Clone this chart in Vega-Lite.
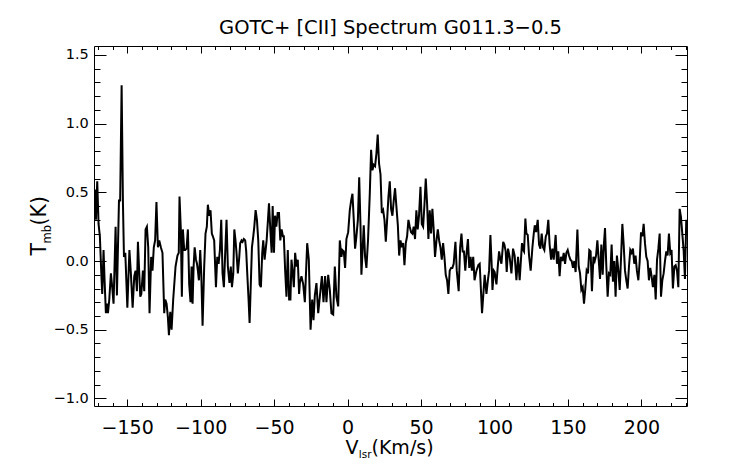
{
  "$schema": "https://vega.github.io/schema/vega-lite/v6.json",
  "width": 593,
  "height": 360,
  "autosize": {"type": "none"},
  "padding": {"left": 94, "top": 46, "right": 55, "bottom": 58},
  "title": {
    "text": "GOTC+ [CII] Spectrum G011.3−0.5",
    "font": "DejaVu Sans",
    "fontSize": 19.5,
    "fontWeight": "normal",
    "color": "black",
    "baseline": "alphabetic",
    "offset": -8,
    "frame": "group",
    "anchor": "middle"
  },
  "config": {
    "view": {"stroke": "black", "strokeWidth": 1},
    "axis": {
      "grid": false,
      "domain": false,
      "labelFont": "DejaVu Sans",
      "titleFont": "DejaVu Sans",
      "labelColor": "black",
      "titleColor": "black",
      "tickColor": "black",
      "tickWidth": 1,
      "titleFontWeight": "normal",
      "labelFlush": false,
      "labelOverlap": false,
      "titleAlign": "left",
      "titleBaseline": "alphabetic"
    }
  },
  "data": {"name": "spec"},
  "datasets": {
    "spec": [
      {"v": -172.6, "tmb": 0.32}, {"v": -172, "tmb": 0.52}, {"v": -171.3, "tmb": 0.30}, {"v": -170.4, "tmb": 0.58},
      {"v": -169.5, "tmb": 0.27}, {"v": -168.6, "tmb": 0.18}, {"v": -167.7, "tmb": -0.07}, {"v": -167, "tmb": -0.24},
      {"v": -166.1, "tmb": 0.08}, {"v": -165.4, "tmb": -0.14}, {"v": -164.5, "tmb": -0.38}, {"v": -163.8, "tmb": -0.31},
      {"v": -163.1, "tmb": -0.38}, {"v": -162.2, "tmb": -0.28}, {"v": -161.1, "tmb": -0.09}, {"v": -160.2, "tmb": -0.19},
      {"v": -159.3, "tmb": -0.31}, {"v": -157.9, "tmb": 0.25}, {"v": -157, "tmb": -0.25}, {"v": -155.6, "tmb": 0.44},
      {"v": -154.8, "tmb": 0.44}, {"v": -153.8, "tmb": 1.28}, {"v": -152.9, "tmb": 0.42}, {"v": -152.2, "tmb": 0.03},
      {"v": -151.3, "tmb": 0.06}, {"v": -149.9, "tmb": -0.34}, {"v": -148.5, "tmb": 0.08}, {"v": -147.5, "tmb": -0.09},
      {"v": -146.3, "tmb": -0.34}, {"v": -145.2, "tmb": -0.11}, {"v": -144.3, "tmb": -0.07}, {"v": -143.4, "tmb": -0.22},
      {"v": -142.7, "tmb": 0.14}, {"v": -141.8, "tmb": -0.09}, {"v": -141.1, "tmb": -0.26}, {"v": -140.4, "tmb": -0.24},
      {"v": -139.3, "tmb": -0.07}, {"v": -138.4, "tmb": -0.22}, {"v": -137.5, "tmb": 0.23}, {"v": -136.6, "tmb": 0.25},
      {"v": -135.7, "tmb": 0.10}, {"v": -134.8, "tmb": -0.38}, {"v": -133.7, "tmb": 0.03}, {"v": -132.8, "tmb": -0.07},
      {"v": -131.9, "tmb": 0.10}, {"v": -131, "tmb": 0.15}, {"v": -130.1, "tmb": 0.43}, {"v": -129.1, "tmb": 0.10},
      {"v": -128.2, "tmb": 0.15}, {"v": -127.1, "tmb": 0.10}, {"v": -126, "tmb": 0.06}, {"v": -124.8, "tmb": -0.38},
      {"v": -124.1, "tmb": -0.28}, {"v": -123.2, "tmb": -0.31}, {"v": -122.3, "tmb": -0.41}, {"v": -121.6, "tmb": -0.54},
      {"v": -120.7, "tmb": -0.37}, {"v": -119.8, "tmb": -0.50}, {"v": -118.7, "tmb": -0.28}, {"v": -117.1, "tmb": -0.04},
      {"v": -115.8, "tmb": 0.04}, {"v": -114.9, "tmb": 0.06}, {"v": -114.4, "tmb": 0.47}, {"v": -113.5, "tmb": 0.23},
      {"v": -112.8, "tmb": -0.26}, {"v": -112.1, "tmb": 0.23}, {"v": -111.2, "tmb": 0.08}, {"v": -110.5, "tmb": 0.08},
      {"v": -109.6, "tmb": 0.09}, {"v": -108.7, "tmb": 0.23}, {"v": -107.8, "tmb": -0.17}, {"v": -106.9, "tmb": -0.30},
      {"v": -106.2, "tmb": -0.04}, {"v": -105.5, "tmb": -0.31}, {"v": -104.8, "tmb": -0.04}, {"v": -104.1, "tmb": 0.10},
      {"v": -103.2, "tmb": 0.01}, {"v": -102.5, "tmb": -0.02}, {"v": -101.9, "tmb": -0.07}, {"v": -101.2, "tmb": -0.14},
      {"v": -100.3, "tmb": 0.08}, {"v": -99.6, "tmb": -0.09}, {"v": -98.7, "tmb": -0.47}, {"v": -97.6, "tmb": -0.04},
      {"v": -96.7, "tmb": 0.20}, {"v": -95.8, "tmb": 0.25}, {"v": -95.1, "tmb": 0.41}, {"v": -94.2, "tmb": 0.33},
      {"v": -93.3, "tmb": 0.37}, {"v": -92.4, "tmb": 0.20}, {"v": -91.7, "tmb": 0.18}, {"v": -90.8, "tmb": 0.15},
      {"v": -89.6, "tmb": -0.19}, {"v": -88.7, "tmb": 0.03}, {"v": -87.8, "tmb": -0.02}, {"v": -86.9, "tmb": 0.08},
      {"v": -86, "tmb": 0.30}, {"v": -85.1, "tmb": -0.09}, {"v": -84.2, "tmb": -0.19}, {"v": -83.3, "tmb": 0.06},
      {"v": -82.4, "tmb": 0.30}, {"v": -81.5, "tmb": -0.04}, {"v": -80.4, "tmb": -0.16}, {"v": -79.5, "tmb": -0.04},
      {"v": -78.7, "tmb": -0.19}, {"v": -77.8, "tmb": -0.09}, {"v": -77.1, "tmb": 0.23}, {"v": -76.3, "tmb": 0.15},
      {"v": -75.6, "tmb": 0.06}, {"v": -74.7, "tmb": -0.09}, {"v": -73.8, "tmb": 0.02}, {"v": -73.1, "tmb": 0.13},
      {"v": -72.2, "tmb": 0.15}, {"v": -71.5, "tmb": 0.14}, {"v": -70.6, "tmb": 0.16}, {"v": -69.7, "tmb": 0.15},
      {"v": -69, "tmb": 0.07}, {"v": -68.3, "tmb": -0.09}, {"v": -67.4, "tmb": -0.28}, {"v": -66.7, "tmb": -0.45},
      {"v": -65.8, "tmb": -0.14}, {"v": -65.1, "tmb": 0.10}, {"v": -64.2, "tmb": 0.18}, {"v": -63.5, "tmb": 0.25},
      {"v": -62.6, "tmb": 0.37}, {"v": -61.7, "tmb": 0.30}, {"v": -60.8, "tmb": 0.15}, {"v": -59.9, "tmb": -0.17},
      {"v": -59, "tmb": -0.19}, {"v": -58.1, "tmb": 0.06}, {"v": -57.4, "tmb": 0.15}, {"v": -56.5, "tmb": 0.01},
      {"v": -55.8, "tmb": 0.08}, {"v": -55.1, "tmb": 0.15}, {"v": -54.2, "tmb": 0.30}, {"v": -53.5, "tmb": 0.42},
      {"v": -52.6, "tmb": 0.23}, {"v": -51.7, "tmb": 0.06}, {"v": -51, "tmb": 0.40}, {"v": -50.1, "tmb": 0.06},
      {"v": -49.4, "tmb": 0.33}, {"v": -48.5, "tmb": 0.25}, {"v": -47.6, "tmb": 0.35}, {"v": -46.7, "tmb": 0.35},
      {"v": -45.8, "tmb": 0.15}, {"v": -44.9, "tmb": 0.23}, {"v": -44, "tmb": 0.18}, {"v": -43.4, "tmb": 0.18},
      {"v": -42.5, "tmb": -0.07}, {"v": -41.6, "tmb": -0.26}, {"v": -40.7, "tmb": 0.08}, {"v": -39.8, "tmb": -0.28},
      {"v": -38.9, "tmb": -0.28}, {"v": -38.2, "tmb": 0.01}, {"v": -37.3, "tmb": -0.09}, {"v": -36.6, "tmb": -0.19},
      {"v": -35.7, "tmb": 0.06}, {"v": -34.8, "tmb": -0.04}, {"v": -33.9, "tmb": 0.01}, {"v": -33, "tmb": -0.24},
      {"v": -32.5, "tmb": -0.16}, {"v": -31.4, "tmb": -0.11}, {"v": -30.2, "tmb": -0.17}, {"v": -29.1, "tmb": -0.30},
      {"v": -27.5, "tmb": 0.13}, {"v": -26.4, "tmb": 0.01}, {"v": -25.2, "tmb": -0.50}, {"v": -24.1, "tmb": -0.28},
      {"v": -23.2, "tmb": -0.43}, {"v": -22.3, "tmb": -0.25}, {"v": -21.2, "tmb": -0.16}, {"v": -20, "tmb": -0.38},
      {"v": -18.9, "tmb": -0.26}, {"v": -17.5, "tmb": -0.11}, {"v": -16.4, "tmb": -0.30}, {"v": -15.3, "tmb": -0.11},
      {"v": -14.4, "tmb": -0.30}, {"v": -13.2, "tmb": -0.10}, {"v": -12.1, "tmb": -0.21}, {"v": -11, "tmb": -0.38},
      {"v": -9.8, "tmb": -0.39}, {"v": -8.7, "tmb": -0.04}, {"v": -7.6, "tmb": -0.26}, {"v": -6.4, "tmb": -0.33},
      {"v": -5.3, "tmb": 0.15}, {"v": -4.2, "tmb": 0.03}, {"v": -3.5, "tmb": 0.08}, {"v": -2.6, "tmb": 0.07},
      {"v": -1.7, "tmb": -0.05}, {"v": -0.8, "tmb": 0.16}, {"v": 0.4, "tmb": 0.21}, {"v": 1.5, "tmb": 0.37},
      {"v": 2.4, "tmb": 0.44}, {"v": 3.3, "tmb": 0.49}, {"v": 4.2, "tmb": 0.30}, {"v": 5.1, "tmb": 0.09},
      {"v": 6, "tmb": 0.18}, {"v": 7, "tmb": 0.30}, {"v": 7.9, "tmb": 0.61}, {"v": 8.8, "tmb": 0.25},
      {"v": 9.4, "tmb": -0.10}, {"v": 10.3, "tmb": 0.10}, {"v": 11, "tmb": 0.26}, {"v": 11.9, "tmb": 0.03},
      {"v": 12.8, "tmb": -0.05}, {"v": 13.9, "tmb": 0.15}, {"v": 15.1, "tmb": 0.49}, {"v": 16, "tmb": 0.81},
      {"v": 16.9, "tmb": 0.66}, {"v": 17.8, "tmb": 0.70}, {"v": 18.7, "tmb": 0.69}, {"v": 19.6, "tmb": 0.78},
      {"v": 20.5, "tmb": 0.92}, {"v": 21.4, "tmb": 0.71}, {"v": 22.4, "tmb": 0.63}, {"v": 23.3, "tmb": 0.35},
      {"v": 24.2, "tmb": 0.37}, {"v": 25.1, "tmb": 0.30}, {"v": 26, "tmb": 0.14}, {"v": 26.9, "tmb": 0.30},
      {"v": 27.8, "tmb": 0.47}, {"v": 28.7, "tmb": 0.58}, {"v": 29.6, "tmb": 0.38}, {"v": 30.5, "tmb": 0.33},
      {"v": 31.4, "tmb": 0.44}, {"v": 32.3, "tmb": 0.53}, {"v": 33.2, "tmb": 0.40}, {"v": 34.2, "tmb": 0.26},
      {"v": 35.1, "tmb": 0.04}, {"v": 36, "tmb": 0.15}, {"v": 36.9, "tmb": 0.10}, {"v": 37.8, "tmb": 0.13},
      {"v": 38.7, "tmb": -0.03}, {"v": 39.6, "tmb": 0.13}, {"v": 40.5, "tmb": 0.18}, {"v": 41.4, "tmb": 0.30},
      {"v": 42.3, "tmb": 0.25}, {"v": 43.2, "tmb": 0.21}, {"v": 44.1, "tmb": 0.20}, {"v": 45, "tmb": 0.25},
      {"v": 45.9, "tmb": 0.16}, {"v": 46.8, "tmb": 0.37}, {"v": 47.7, "tmb": 0.23}, {"v": 48.6, "tmb": 0.33},
      {"v": 49.6, "tmb": 0.54}, {"v": 50.5, "tmb": 0.27}, {"v": 51.4, "tmb": 0.25}, {"v": 52.3, "tmb": 0.41},
      {"v": 53.2, "tmb": 0.60}, {"v": 54.1, "tmb": 0.42}, {"v": 55, "tmb": 0.16}, {"v": 55.9, "tmb": 0.37},
      {"v": 56.8, "tmb": 0.20}, {"v": 57.7, "tmb": 0.38}, {"v": 58.6, "tmb": 0.23}, {"v": 59.5, "tmb": 0.03},
      {"v": 60.5, "tmb": 0.15}, {"v": 61.4, "tmb": 0.23}, {"v": 62.3, "tmb": 0.15}, {"v": 63.2, "tmb": 0.10},
      {"v": 64.1, "tmb": 0.01}, {"v": 65, "tmb": 0.13}, {"v": 65.9, "tmb": 0.03}, {"v": 66.8, "tmb": -0.10},
      {"v": 67.7, "tmb": -0.14}, {"v": 68.6, "tmb": -0.24}, {"v": 69.5, "tmb": -0.07}, {"v": 70.4, "tmb": -0.05},
      {"v": 71.3, "tmb": -0.05}, {"v": 72.2, "tmb": -0.02}, {"v": 73.4, "tmb": 0.14}, {"v": 74.3, "tmb": -0.07},
      {"v": 75.6, "tmb": -0.22}, {"v": 76.6, "tmb": 0.10}, {"v": 77.5, "tmb": 0.20}, {"v": 78.3, "tmb": 0.07},
      {"v": 79.2, "tmb": 0.07}, {"v": 80.1, "tmb": -0.07}, {"v": 81, "tmb": 0.06}, {"v": 81.9, "tmb": 0.16},
      {"v": 82.8, "tmb": -0.05}, {"v": 83.7, "tmb": 0.03}, {"v": 84.6, "tmb": -0.07}, {"v": 85.5, "tmb": 0.03},
      {"v": 86.4, "tmb": -0.14}, {"v": 87.7, "tmb": -0.07}, {"v": 89, "tmb": -0.03}, {"v": 89.9, "tmb": -0.02},
      {"v": 91.5, "tmb": -0.38}, {"v": 92.6, "tmb": -0.21}, {"v": 93.3, "tmb": -0.10}, {"v": 94.5, "tmb": -0.24},
      {"v": 95.6, "tmb": -0.13}, {"v": 96.3, "tmb": -0.07}, {"v": 97.2, "tmb": 0.19}, {"v": 98.1, "tmb": -0.04},
      {"v": 98.6, "tmb": -0.21}, {"v": 99.5, "tmb": -0.07}, {"v": 100.1, "tmb": -0.08}, {"v": 101.3, "tmb": -0.17},
      {"v": 102.2, "tmb": -0.04}, {"v": 103.1, "tmb": 0.07}, {"v": 104, "tmb": 0.01}, {"v": 104.7, "tmb": -0.02},
      {"v": 105.9, "tmb": 0.14}, {"v": 106.7, "tmb": 0.12}, {"v": 107.6, "tmb": 0.07}, {"v": 108.3, "tmb": -0.08},
      {"v": 109.2, "tmb": 0.09}, {"v": 110.3, "tmb": 0.03}, {"v": 111.5, "tmb": -0.09}, {"v": 112.6, "tmb": 0.09},
      {"v": 113.7, "tmb": 0.04}, {"v": 114.9, "tmb": -0.14}, {"v": 116, "tmb": 0.03}, {"v": 117.1, "tmb": -0.14},
      {"v": 118.7, "tmb": 0.13}, {"v": 119.6, "tmb": 0.08}, {"v": 120.1, "tmb": 0.07}, {"v": 121, "tmb": 0.31},
      {"v": 121.7, "tmb": 0.20}, {"v": 122.6, "tmb": 0.19}, {"v": 123.5, "tmb": 0.04}, {"v": 124.6, "tmb": -0.07},
      {"v": 125.8, "tmb": 0.10}, {"v": 126.7, "tmb": 0.20}, {"v": 127.4, "tmb": 0.26}, {"v": 128.3, "tmb": 0.21},
      {"v": 129.4, "tmb": 0.30}, {"v": 130.3, "tmb": 0.12}, {"v": 131.2, "tmb": 0.09}, {"v": 132.1, "tmb": 0.20},
      {"v": 133, "tmb": 0.10}, {"v": 133.9, "tmb": 0.08}, {"v": 134.9, "tmb": 0.18}, {"v": 135.7, "tmb": 0.20},
      {"v": 136.6, "tmb": 0.30}, {"v": 137.5, "tmb": 0.12}, {"v": 138.5, "tmb": 0.01}, {"v": 139.4, "tmb": 0.09},
      {"v": 140.3, "tmb": 0.01}, {"v": 141.6, "tmb": 0.19}, {"v": 142.5, "tmb": -0.02}, {"v": 143.4, "tmb": 0.07},
      {"v": 144.3, "tmb": -0.11}, {"v": 145.2, "tmb": 0.03}, {"v": 146.2, "tmb": 0.00}, {"v": 147.1, "tmb": 0.06},
      {"v": 148, "tmb": -0.02}, {"v": 148.9, "tmb": 0.06}, {"v": 149.8, "tmb": 0.08}, {"v": 150.7, "tmb": 0.04},
      {"v": 151.6, "tmb": 0.01}, {"v": 152.5, "tmb": 0.00}, {"v": 153.4, "tmb": -0.05}, {"v": 154.3, "tmb": 0.00},
      {"v": 155.2, "tmb": -0.08}, {"v": 156.4, "tmb": 0.23}, {"v": 157.3, "tmb": -0.04}, {"v": 158.2, "tmb": -0.09},
      {"v": 159.1, "tmb": -0.21}, {"v": 160, "tmb": -0.19}, {"v": 160.9, "tmb": -0.31}, {"v": 161.8, "tmb": -0.20},
      {"v": 162.7, "tmb": -0.07}, {"v": 163.6, "tmb": -0.09}, {"v": 164.5, "tmb": 0.08}, {"v": 165.4, "tmb": 0.07},
      {"v": 166.3, "tmb": -0.22}, {"v": 167.3, "tmb": 0.03}, {"v": 168.2, "tmb": 0.00}, {"v": 169.1, "tmb": 0.04},
      {"v": 170, "tmb": 0.15}, {"v": 170.9, "tmb": 0.01}, {"v": 171.8, "tmb": -0.13}, {"v": 172.7, "tmb": 0.12},
      {"v": 173.6, "tmb": -0.10}, {"v": 174.5, "tmb": 0.13}, {"v": 175.2, "tmb": 0.24}, {"v": 176.1, "tmb": -0.04},
      {"v": 177, "tmb": -0.26}, {"v": 177.9, "tmb": -0.09}, {"v": 178.8, "tmb": -0.10}, {"v": 179.7, "tmb": 0.12},
      {"v": 180.6, "tmb": -0.15}, {"v": 181.5, "tmb": 0.00}, {"v": 182.4, "tmb": -0.26}, {"v": 183.3, "tmb": 0.04},
      {"v": 184.3, "tmb": -0.07}, {"v": 185.2, "tmb": -0.21}, {"v": 186.1, "tmb": 0.02}, {"v": 187, "tmb": 0.27},
      {"v": 187.9, "tmb": 0.12}, {"v": 188.8, "tmb": -0.07}, {"v": 189.7, "tmb": -0.14}, {"v": 190.6, "tmb": -0.20},
      {"v": 191.5, "tmb": -0.04}, {"v": 192.4, "tmb": 0.08}, {"v": 193.3, "tmb": 0.06}, {"v": 194.2, "tmb": 0.09},
      {"v": 195.1, "tmb": -0.02}, {"v": 196, "tmb": 0.04}, {"v": 196.9, "tmb": -0.07}, {"v": 197.9, "tmb": -0.14},
      {"v": 198.8, "tmb": 0.00}, {"v": 199.7, "tmb": 0.21}, {"v": 200.6, "tmb": 0.18}, {"v": 201.5, "tmb": 0.27},
      {"v": 202.4, "tmb": 0.13}, {"v": 203.3, "tmb": 0.03}, {"v": 204.2, "tmb": 0.00}, {"v": 205.1, "tmb": -0.14},
      {"v": 206, "tmb": -0.05}, {"v": 206.9, "tmb": -0.11}, {"v": 207.8, "tmb": -0.19}, {"v": 208.8, "tmb": -0.10},
      {"v": 209.7, "tmb": -0.28}, {"v": 210.6, "tmb": 0.01}, {"v": 211.5, "tmb": 0.09}, {"v": 212.4, "tmb": 0.20},
      {"v": 213.3, "tmb": -0.26}, {"v": 214.2, "tmb": -0.14}, {"v": 215.1, "tmb": -0.09}, {"v": 216, "tmb": 0.00},
      {"v": 216.9, "tmb": 0.07}, {"v": 217.8, "tmb": 0.04}, {"v": 218.7, "tmb": 0.20}, {"v": 219.6, "tmb": 0.06},
      {"v": 220.5, "tmb": 0.08}, {"v": 221.4, "tmb": -0.20}, {"v": 222.4, "tmb": -0.04}, {"v": 223.3, "tmb": -0.03},
      {"v": 224.2, "tmb": -0.07}, {"v": 225.1, "tmb": -0.19}, {"v": 226, "tmb": 0.38}, {"v": 226.9, "tmb": 0.32},
      {"v": 227.8, "tmb": 0.20}, {"v": 228.7, "tmb": 0.08}, {"v": 229.6, "tmb": -0.13}, {"v": 230.5, "tmb": 0.30}
    ]
  },
  "layer": [
    {
      "mark": {"type": "line", "color": "black", "strokeWidth": 2, "clip": true},
      "encoding": {
        "x": {
          "field": "v", "type": "quantitative",
          "scale": {"domain": [-172.6, 231], "nice": false, "zero": false},
          "axis": {
            "orient": "bottom", "values": [-150, -100, -50, 0, 50, 100, 150, 200], "format": "d",
            "ticks": false, "labelFontSize": 19, "labelPadding": 12.5,
            "title": "V", "titleFontSize": 19, "titleX": 251, "titleY": 47.3
          }
        },
        "y": {
          "field": "tmb", "type": "quantitative",
          "scale": {"domain": [-1.055, 1.565], "nice": false, "zero": false},
          "axis": {
            "orient": "left", "values": [-1, -0.5, 0, 0.5, 1, 1.5], "format": ".1f",
            "ticks": false, "labelFontSize": 14.5, "labelPadding": 5.7,
            "title": "T", "titleFontSize": 20.5, "titleAngle": -90, "titleX": -49, "titleY": 209
          }
        }
      }
    },
    {
      "mark": {"type": "line", "opacity": 0},
      "encoding": {
        "x": {
          "field": "v", "type": "quantitative",
          "scale": {"domain": [-172.6, 231], "nice": false, "zero": false},
          "axis": {
            "orient": "bottom", "values": [-150, -100, -50, 0, 50, 100, 150, 200],
            "labels": false, "tickSize": -7,
            "title": "lsr", "titleFontSize": 10.5, "titleX": 264.3, "titleY": 51.5
          }
        },
        "y": {
          "field": "tmb", "type": "quantitative",
          "scale": {"domain": [-1.055, 1.565], "nice": false, "zero": false},
          "axis": {
            "orient": "left", "values": [-1, -0.5, 0, 0.5, 1, 1.5],
            "labels": false, "tickSize": -12,
            "title": "mb", "titleFontSize": 11.5, "titleAngle": -90, "titleX": -44, "titleY": 197
          }
        }
      }
    },
    {
      "mark": {"type": "line", "opacity": 0},
      "encoding": {
        "x": {
          "field": "v", "type": "quantitative",
          "scale": {"domain": [-172.6, 231], "nice": false, "zero": false},
          "axis": {
            "orient": "bottom",
            "values": [-170, -160, -140, -130, -120, -110, -90, -80, -70, -60, -40, -30, -20, -10, 10, 20, 30, 40, 60, 70, 80, 90, 110, 120, 130, 140, 160, 170, 180, 190, 210, 220, 230],
            "labels": false, "tickSize": -3.5,
            "title": "(Km/s)", "titleFontSize": 19, "titleX": 277, "titleY": 47.3
          }
        },
        "y": {
          "field": "tmb", "type": "quantitative",
          "scale": {"domain": [-1.055, 1.565], "nice": false, "zero": false},
          "axis": {
            "orient": "left",
            "values": [-0.9, -0.8, -0.7, -0.6, -0.4, -0.3, -0.2, -0.1, 0.1, 0.2, 0.3, 0.4, 0.6, 0.7, 0.8, 0.9, 1.1, 1.2, 1.3, 1.4],
            "labels": false, "tickSize": -6,
            "title": "(K)", "titleFontSize": 20.5, "titleAngle": -90, "titleX": -49, "titleY": 179
          }
        }
      }
    },
    {
      "mark": {"type": "line", "opacity": 0},
      "encoding": {
        "x": {
          "field": "v", "type": "quantitative",
          "scale": {"domain": [-172.6, 231], "nice": false, "zero": false},
          "axis": {
            "orient": "top", "values": [-150, -100, -50, 0, 50, 100, 150, 200],
            "labels": false, "tickSize": -7, "title": null
          }
        },
        "y": {
          "field": "tmb", "type": "quantitative",
          "scale": {"domain": [-1.055, 1.565], "nice": false, "zero": false},
          "axis": {
            "orient": "right", "values": [-1, -0.5, 0, 0.5, 1, 1.5],
            "labels": false, "tickSize": -12, "title": null
          }
        }
      }
    },
    {
      "mark": {"type": "line", "opacity": 0},
      "encoding": {
        "x": {
          "field": "v", "type": "quantitative",
          "scale": {"domain": [-172.6, 231], "nice": false, "zero": false},
          "axis": {
            "orient": "top",
            "values": [-170, -160, -140, -130, -120, -110, -90, -80, -70, -60, -40, -30, -20, -10, 10, 20, 30, 40, 60, 70, 80, 90, 110, 120, 130, 140, 160, 170, 180, 190, 210, 220, 230],
            "labels": false, "tickSize": -3.5, "title": null
          }
        },
        "y": {
          "field": "tmb", "type": "quantitative",
          "scale": {"domain": [-1.055, 1.565], "nice": false, "zero": false},
          "axis": {
            "orient": "right",
            "values": [-0.9, -0.8, -0.7, -0.6, -0.4, -0.3, -0.2, -0.1, 0.1, 0.2, 0.3, 0.4, 0.6, 0.7, 0.8, 0.9, 1.1, 1.2, 1.3, 1.4],
            "labels": false, "tickSize": -6, "title": null
          }
        }
      }
    }
  ],
  "resolve": {"axis": {"x": "independent", "y": "independent"}}
}
